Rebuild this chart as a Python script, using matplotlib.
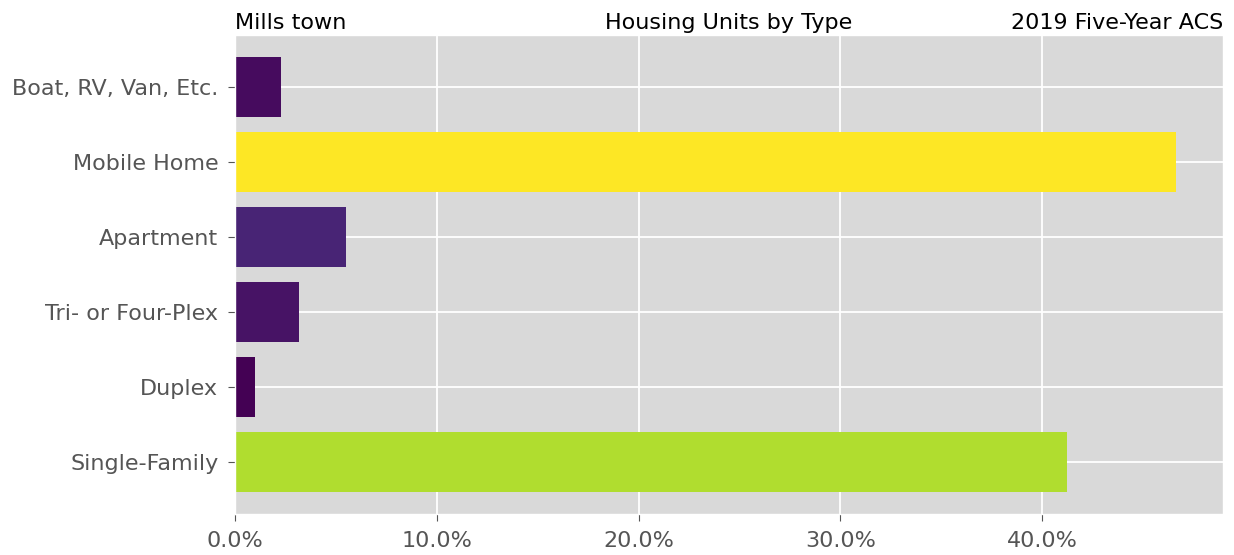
import matplotlib
matplotlib.use("Agg")
import matplotlib.pyplot as plt
import numpy as np
from matplotlib.ticker import PercentFormatter

plt.style.use("ggplot")
plt.rcParams["font.family"] = ["DejaVu Sans"]

categories = ["Single-Family", "Duplex", "Tri- or Four-Plex", "Apartment", "Mobile Home", "Boat, RV, Van, Etc."]
shares = [0.4124, 0.0099, 0.0317, 0.0550, 0.4663, 0.0228]

fig = plt.figure(figsize=(12.34, 5.55), dpi=100)
ax = fig.add_axes([0.1904, 0.074, 0.991 - 0.1904, 0.937 - 0.074])

vals = np.array(shares)
norm = (vals - vals.min()) / (vals.max() - vals.min())
colors = plt.cm.viridis(norm)
ax.barh(categories, shares, color=colors, height=0.8)

ax.xaxis.set_major_formatter(PercentFormatter(1.0, decimals=1))
ax.tick_params(axis="both", labelsize=16, colors="#555555", labelcolor="#555555",
               length=5, pad=7)
ax.grid(True, color="white", linewidth=1.3)
ax.set_axisbelow(True)
ax.set_facecolor("#d9d9d9")

ax.set_title("Mills town", loc="left", fontsize=16, color="black", pad=4)
ax.set_title("Housing Units by Type", loc="center", fontsize=16, color="black", pad=4)
ax.set_title("2019 Five-Year ACS", loc="right", fontsize=16, color="black", pad=4)

fig.savefig("out.png", dpi=100)
